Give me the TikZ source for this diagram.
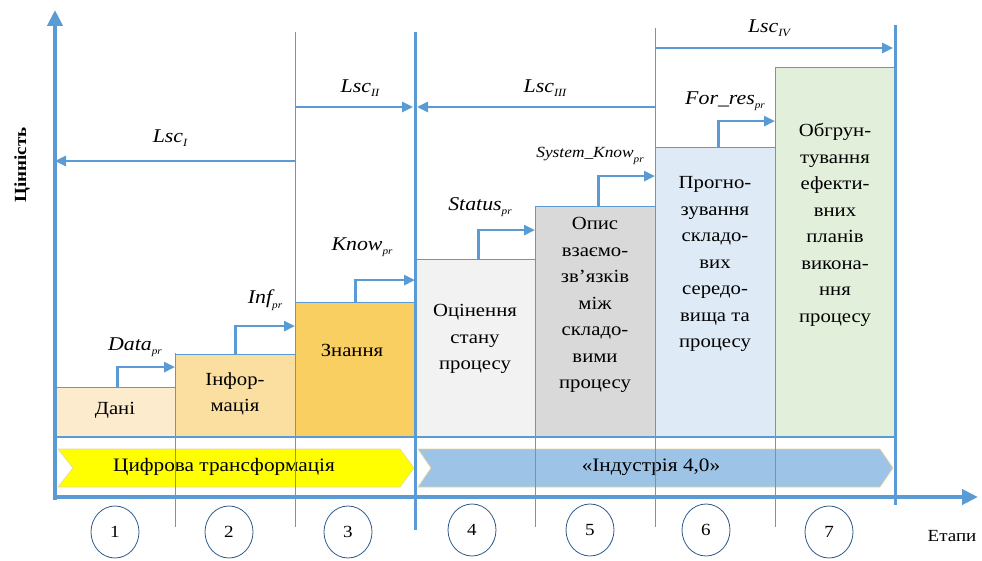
\documentclass[tikz,border=0pt]{standalone}
\usepackage{fontspec}
\setmainfont{Liberation Serif}[FakeStretch=1.12]
\usetikzlibrary{arrows.meta,shapes.geometric,calc}
\definecolor{ax}{HTML}{5B9BD5}
\definecolor{cA}{HTML}{FCEBCC}
\definecolor{cB}{HTML}{FBDFA0}
\definecolor{cC}{HTML}{F9CF62}
\definecolor{cD}{HTML}{F2F2F2}
\definecolor{cE}{HTML}{D9D9D9}
\definecolor{cF}{HTML}{DEEBF7}
\definecolor{cG}{HTML}{E2EFDA}
\definecolor{bandY}{HTML}{FFFF00}
\definecolor{bandB}{HTML}{9DC3E6}
\definecolor{bandE}{HTML}{E8D898}
\definecolor{circ}{HTML}{2E5A8A}
\newcommand{\sub}[2]{#1\raisebox{-4.5pt}{\fontsize{10}{10}\selectfont #2}}
\newcommand{\lsc}[1]{Lsc\raisebox{-4.5pt}{\fontsize{11}{11}\selectfont #1}}
\begin{document}
\begin{tikzpicture}[x=1pt,y=-1pt,
  bar/.style={draw=ax, line width=0.9pt, anchor=south west, minimum width=120pt, inner sep=0pt},
  btxt/.style={align=center, font=\fontsize{18.5}{26.5}\selectfont},
  lbl/.style={font=\fontsize{19.5}{19.5}\selectfont\itshape, inner sep=1pt},
  thin line/.style={draw=ax, line width=1pt},
  stparrow/.style={draw=ax, line width=2.6pt, -{Triangle[length=11pt,width=10pt]}},
  lscarrow/.style={draw=ax, line width=2.6pt, -{Triangle[length=11pt,width=10pt]}},
  stage/.style={ellipse, draw=circ, line width=0.8pt, minimum width=48pt, minimum height=52pt, inner sep=0pt, font=\fontsize{17}{17}\selectfont},
  bandtxt/.style={font=\fontsize{19}{19}\selectfont}
]
\useasboundingbox (0,0) rectangle (982,561);

% bars
\node[bar, fill=cA, minimum height=49pt] (b1) at (55,437) {};
\node[bar, fill=cB, minimum height=82pt] (b2) at (175,437) {};
\node[bar, fill=cC, minimum height=134pt] (b3) at (295,437) {};
\node[bar, fill=cD, minimum height=177pt] (b4) at (415,437) {};
\node[bar, fill=cE, minimum height=230pt] (b5) at (535,437) {};
\node[bar, fill=cF, minimum height=289pt] (b6) at (655,437) {};
\node[bar, fill=cG, minimum height=369pt] (b7) at (775,437) {};

\node[btxt] (t1) at (115,410) {Дані};
\node[btxt] (t2) at (235,394) {Інфор-\\мація};
\node[btxt] (t3) at (352,350) {Знання};
\node[btxt] (t4) at (475,339) {Оцінення\\стану\\процесу};
\node[btxt] (t5) at (595,305) {Опис\\взаємо-\\зв'язків\\між\\складо-\\вими\\процесу};
\node[btxt] (t6) at (715,264) {Прогно-\\зування\\складо-\\вих\\середо-\\вища та\\процесу};
\node[btxt] (t7) at (835,225) {Обгрун-\\тування\\ефекти-\\вних\\планів\\викона-\\ння\\процесу};

% coordinates for vertical lines
\coordinate (v2t) at (175,353); \coordinate (v2b) at (175,527);
\coordinate (v3t) at (295,32);  \coordinate (v3b) at (295,527);
\coordinate (v4t) at (415,32);  \coordinate (v4b) at (415,530);
\coordinate (v5t) at (535,207); \coordinate (v5b) at (535,527);
\coordinate (v6t) at (655,28);  \coordinate (v6b) at (655,527);
\coordinate (v7t) at (775,68);  \coordinate (v7b) at (775,527);
\coordinate (v8t) at (895,25);  \coordinate (v8b) at (895,505);

% bands
\path[fill=bandY, draw=bandE, line width=0.6pt]
  (58,449) -- (400,449) -- (414,468) -- (400,487) -- (58,487) -- (73,468) -- cycle;
\node[bandtxt] (yt) at (224,467) {Цифрова трансформація};
\path[fill=bandB, draw=bandE, line width=0.6pt]
  (418,449) -- (880,449) -- (893,468) -- (880,487) -- (418,487) -- (431,468) -- cycle;
\node[bandtxt] (bt) at (651,467) {«Індустрія 4,0»};

% thin vertical lines
\draw[thin line] (v2t) -- (v2b);
\draw[thin line] (v3t) -- (v3b);
\draw[thin line] (v5t) -- (v5b);
\draw[thin line] (v6t) -- (v6b);
\draw[thin line] (v7t) -- (v7b);
\draw[thin line] (55,437) -- (895,437);
% thick vertical lines
\draw[draw=ax, line width=3pt] (v4t) -- (v4b);
\draw[draw=ax, line width=3pt] (v8t) -- (v8b);

% axes
\coordinate (yb) at (55,500);
\coordinate (ytop) at (55,10);
\coordinate (xl) at (53,497);
\coordinate (xr) at (978,497);
\draw[draw=ax, line width=4.5pt, -{Triangle[length=16pt,width=15pt]}] (yb) -- (ytop);
\draw[draw=ax, line width=4.5pt, -{Triangle[length=16pt,width=15pt]}] (xl) -- (xr);

% step arrows
\draw[stparrow] ([xshift=2pt]b1.north) |- ([yshift=-13pt]b2.north west);
\draw[stparrow] (b2.north) |- ([yshift=-24pt]b3.north west);
\draw[stparrow] (b3.north) |- ([yshift=-21pt]b4.north west);
\draw[stparrow] ([xshift=3pt]b4.north) |- ([yshift=-24pt]b5.north west);
\draw[stparrow] ([xshift=3pt]b5.north) |- ([yshift=-29pt]b6.north west);
\draw[stparrow] ([xshift=3pt]b6.north) |- ([yshift=-54pt]b7.north west);

\node[lbl] (l1) at (135,347) {\sub{Data}{pr}};
\node[lbl] (l2) at (265,300) {\sub{Inf}{pr}};
\node[lbl] (l3) at (362,247) {\sub{Know}{pr}};
\node[lbl] (l4) at (480,207) {\sub{Status}{pr}};
\node[lbl, font=\fontsize{15.5}{15.5}\selectfont\itshape] (l5) at (590,156) {\sub{System\_Know}{pr}};
\node[lbl] (l6) at (725,101) {\sub{For\_res}{pr}};

% Lsc arrows
\coordinate (s1) at (295,161);
\coordinate (s2) at (295,107);
\coordinate (s3) at (655,107);
\coordinate (s4) at (655,48);
\draw[lscarrow] (s1) -- (yb |- s1);
\draw[lscarrow] (s2) -- ([xshift=-2pt]v4t |- s2);
\draw[lscarrow] (s3) -- ([xshift=2pt]v4t |- s3);
\draw[lscarrow] (s4) -- ([xshift=-2pt]v8t |- s4);
\node[lbl] (L1) at (170,138) {\lsc{I}};
\node[lbl] (L2) at (360,88) {\lsc{II}};
\node[lbl] (L3) at (545,88) {\lsc{III}};
\node[lbl] (L4) at (769,28) {\lsc{IV}};

% stage circles
\node[stage] (n1) at (115,532) {1};
\node[stage] (n2) at (229,532) {2};
\node[stage] (n3) at (348,532) {3};
\node[stage] (n4) at (472,530) {4};
\node[stage] (n5) at (590,530) {5};
\node[stage] (n6) at (706,530) {6};
\node[stage] (n7) at (829,532) {7};

\node[font=\fontsize{17}{17}\selectfont] (et) at (952,536) {Етапи};
\node[font=\fontsize{17}{17}\selectfont\bfseries, rotate=90] (ci) at (22,165) {Цінність};
\end{tikzpicture}
\end{document}
